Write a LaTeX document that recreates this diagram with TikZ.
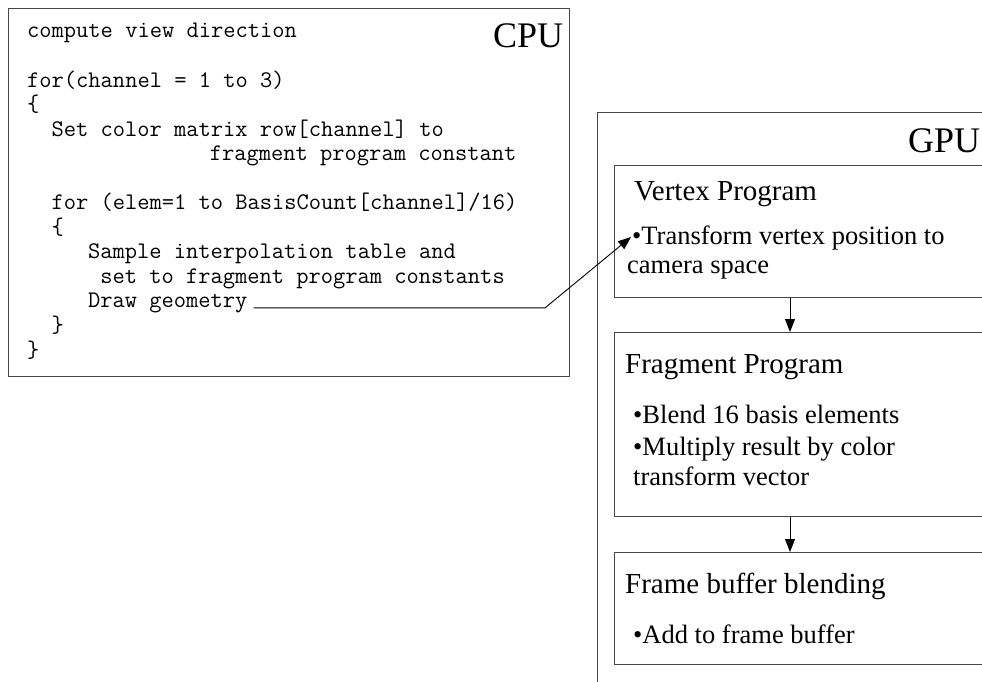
\documentclass[tikz,border=0pt]{standalone}
\usepackage{fontspec}
\setmainfont{Liberation Serif}
\usetikzlibrary{arrows.meta,calc}
\begin{document}
\begin{tikzpicture}[x=1pt,y=-1pt,
  boxstyle/.style={draw=black!72,line width=1pt,rectangle,anchor=north west,inner sep=0pt},
  codeline/.style={anchor=base west,inner sep=0pt,font=\ttfamily\fontsize{23.8}{26}\selectfont},
  bigtitle/.style={anchor=base west,inner sep=0pt,font=\fontsize{36}{40}\selectfont},
  header/.style={anchor=base west,inner sep=0pt,font=\fontsize{29}{33}\selectfont},
  bullettext/.style={anchor=base west,inner sep=0pt,font=\fontsize{26.5}{30}\selectfont},
  conn/.style={draw=black,line width=0.9pt},
  arr/.style={conn,-{Triangle[length=13pt,width=10pt]}}]
\useasboundingbox (0,0) rectangle (982,682);
\clip (0,0) rectangle (982,682);
% boxes
\node[boxstyle,minimum width=561pt,minimum height=368pt] (cpu) at (8,8) {};
\node[boxstyle,minimum width=430pt,minimum height=600pt] (gpu) at (597,112) {};
\node[boxstyle,minimum width=400pt,minimum height=132pt] (vertex) at (614,165) {};
\node[boxstyle,minimum width=400pt,minimum height=184pt] (fragment) at (614,332) {};
\node[boxstyle,minimum width=400pt,minimum height=112pt] (framebuf) at (614,552) {};
% titles
\node[bigtitle] (cputitle) at (493,48) {CPU};
\node[bigtitle] (gputitle) at (908,152) {GPU};
% code lines (column width 12.18)
\node[codeline] (c1) at (27,38) {compute view direction};
\node[codeline] (c2) at (27,87.1) {for(channel = 1 to 3)};
\node[codeline] (c3) at (27,111.6) {\{};
\node[codeline] (c4) at ({27+2*12.18},136.2) {Set color matrix row[channel] to};
\node[codeline] (c5) at ({27+15*12.18},160.7) {fragment program constant};
\node[codeline] (c6) at ({27+2*12.18},209.8) {for (elem=1 to BasisCount[channel]/16)};
\node[codeline] (c7) at ({27+2*12.18},234.3) {\{};
\node[codeline] (c8) at ({27+5*12.18},258.8) {Sample interpolation table and};
\node[codeline] (c9) at ({27+6*12.18},283.4) {set to fragment program constants};
\node[codeline] (dg) at ({27+5*12.18},307.9) {Draw geometry};
\node[codeline] (c11) at ({27+2*12.18},332.4) {\}};
\node[codeline] (c12) at (27,357) {\}};
% GPU texts
\node[header] (vph) at (634,200) {Vertex Program};
\node[bullettext] (vp1) at (632,244) {\textbullet Transform vertex position to};
\node[bullettext] (vp2) at (627,273) {camera space};
\node[header] (fph) at (625,373) {Fragment Program};
\node[bullettext] (fp1) at (633,423) {\textbullet Blend 16 basis elements};
\node[bullettext] (fp2) at (633,455) {\textbullet Multiply result by color};
\node[bullettext] (fp3) at (633,485) {transform vector};
\node[header] (fbh) at (625,593) {Frame buffer blending};
\node[bullettext] (fb1) at (633,643) {\textbullet Add to frame buffer};
% connectors
\coordinate (ax) at (790,0);
\coordinate (bx) at (545,0);
\coordinate (tip) at (631,237);
\draw[arr] (vertex.south -| ax) -- (fragment.north -| ax);
\draw[arr] (fragment.south -| ax) -- (framebuf.north -| ax);
\draw[arr] ([xshift=6pt]dg.base east) -- (dg.base east -| bx) -- (tip);
\end{tikzpicture}
\end{document}
